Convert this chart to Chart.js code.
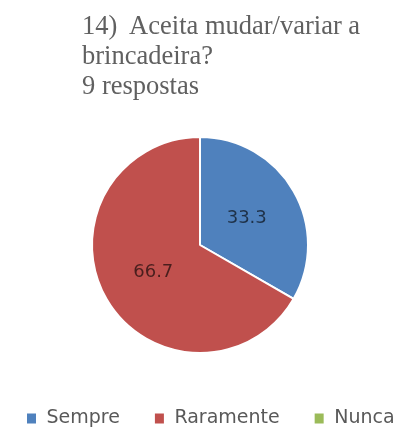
<!DOCTYPE html>
<html>
<head>
<meta charset="utf-8">
<title>14) Aceita mudar/variar a brincadeira?</title>
<script src="https://cdn.jsdelivr.net/npm/chart.js@4.4.1/dist/chart.umd.min.js"></script>
<style>
    html, body {
        margin: 0;
        padding: 0;
        background: #fff;
    }
    .wrap {
        position: relative;
        width: 401px;
        height: 431px;
    }
    .question {
        position: absolute;
        left: 82px;
        top: 10px;
        font-family: "Liberation Serif", "Times New Roman", serif;
        font-size: 26.5px;
        line-height: 30px;
        color: #606060;
        white-space: nowrap;
    }
    canvas {
        position: absolute;
        left: 0;
        top: 0;
    }
</style>
</head>
<body>
<div class="wrap">
    <canvas id="grafico" width="401" height="431"></canvas>
    <div class="question">14)&nbsp; Aceita mudar/variar a<br>brincadeira?<br>9 respostas</div>
</div>
<script>
// Respostas da pergunta 14 (percentual)
const categorias = ['Sempre', 'Raramente', 'Nunca'];
const percentuais = [33.3, 66.7, 0];
const cores = ['#4f81bd', '#c0504d', '#9bbb59'];

// Escreve o valor no meio de cada fatia
const rotulosFatias = {
    id: 'rotulosFatias',
    afterDatasetsDraw(chart) {
        const ctx = chart.ctx;
        const meta = chart.getDatasetMeta(0);
        ctx.save();
        ctx.font = '18px "DejaVu Sans", sans-serif';
        ctx.fillStyle = 'rgba(0, 0, 0, 0.62)';
        ctx.textAlign = 'center';
        ctx.textBaseline = 'middle';
        meta.data.forEach((arc, i) => {
            const valor = percentuais[i];
            if (!valor) return;
            const pos = arc.tooltipPosition();
            ctx.fillText(valor.toFixed(1), pos.x, pos.y);
        });
        ctx.restore();
    }
};

// Caixa vazia à direita: empurra a pizza para a esquerda sem apertar a legenda
const margemDireita = {
    id: 'margemDireita',
    beforeInit(chart) {
        Chart.layouts.addBox(chart, {
            position: 'right',
            weight: 0,
            fullSize: false,
            options: {},
            top: 0, left: 0, right: 0, bottom: 0, width: 0, height: 0,
            isHorizontal() { return false; },
            update(maxWidth, maxHeight) {
                this.width = 31;
                this.height = maxHeight;
            },
            draw() {}
        });
    }
};

const ctx = document.getElementById('grafico').getContext('2d');

new Chart(ctx, {
    type: 'pie',
    data: {
        labels: categorias,
        datasets: [{
            data: percentuais,
            backgroundColor: cores,
            borderColor: '#ffffff',
            borderWidth: 2
        }]
    },
    options: {
        responsive: false,
        animation: false,
        radius: 108,
        layout: {
            padding: { top: 115, left: -8, right: -30, bottom: -7 }
        },
        plugins: {
            tooltip: { enabled: false },
            title: { display: false },
            legend: {
                position: 'bottom',
                align: 'start',
                labels: {
                    boxWidth: 11,
                    boxHeight: 12,
                    padding: 34,
                    color: '#595959',
                    font: { family: '"DejaVu Sans", sans-serif', size: 19 }
                }
            }
        }
    },
    plugins: [rotulosFatias, margemDireita]
});
</script>
</body>
</html>
